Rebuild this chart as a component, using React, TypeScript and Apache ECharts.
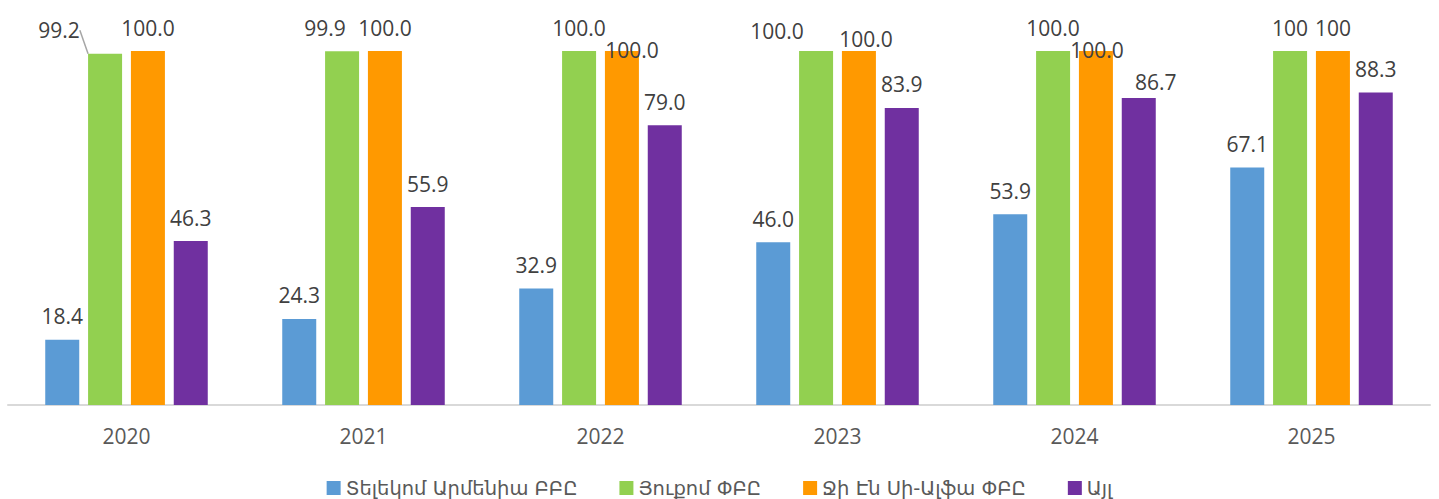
import React, { useEffect, useRef } from "react";
import * as echarts from "echarts";

const years = ["2020", "2021", "2022", "2023", "2024", "2025"];
const seriesNames = ["Տելեկոմ Արմենիա ԲԲԸ", "Յուքոմ ՓԲԸ", "Ջի Էն Սի-Ալֆա ՓԲԸ", "Այլ"];
const telecomArmenia = [18.4, 24.3, 32.9, 46.0, 53.9, 67.1];
const ucom = [99.2, 99.9, 100.0, 100.0, 100.0, 100];
const gncAlfa = [100.0, 100.0, 100.0, 100.0, 100.0, 100];
const others = [46.3, 55.9, 79.0, 83.9, 86.7, 88.3];
// labels shown without decimals (series index -> data indices)
const wholeLabels: Record<number, number[]> = { 1: [5], 2: [5] };

const colors = ["#5B9BD5", "#92D050", "#FF9900", "#7030A0"];

// manual label shifts (series index -> data index -> [dx, dy])
const labelShift: Record<number, Record<number, [number, number]>> = {
  1: { 0: [-46, 0], 1: [-17, 0], 3: [-39, 3] },
  2: { 2: [10, 22], 3: [7, 11], 4: [1, 22] },
  3: { 4: [17, 7] },
};

const FONT = "'Open Sans', sans-serif";

export default function App() {
  const ref = useRef<HTMLDivElement>(null);
  useEffect(() => {
    if (!ref.current) return;
    const chart = echarts.init(ref.current, null, { renderer: "svg" });
    const all = [telecomArmenia, ucom, gncAlfa, others];
    const series = all.map((vals, si) => ({
      name: seriesNames[si],
      type: "bar",
      barWidth: 34,
      barGap: "26%",
      itemStyle: { color: colors[si] },
      data: vals.map((v, di) =>
        si === 1 && di === 0
          ? { value: v, labelLine: { show: true, lineStyle: { color: "#A6A6A6", width: 1.5 } } }
          : v
      ),
      label: {
        show: true,
        position: "top",
        distance: 13,
        color: "#404040",
        fontSize: 21,
        fontFamily: FONT,
        formatter: (p: any) =>
          (wholeLabels[si] || []).includes(p.dataIndex)
            ? String(Math.round(p.value))
            : Number(p.value).toFixed(1),
      },
      labelLine: { show: false },
      labelLayout: (p: any) => {
        const s = labelShift[si] && labelShift[si][p.dataIndex];
        return s ? { dx: s[0], dy: s[1] } : {};
      },
    }));
    chart.setOption({
      animation: false,
      grid: { left: 8, right: 9, top: 51, bottom: 94, containLabel: false },
      legend: {
        top: 473,
        left: "center",
        itemWidth: 14,
        itemHeight: 14,
        itemGap: 42,
        icon: "rect",
        textStyle: { color: "#595959", fontSize: 19.5, fontFamily: "'DejaVu Sans', sans-serif" },
        data: seriesNames,
      },
      xAxis: {
        type: "category",
        data: years,
        axisLine: { lineStyle: { color: "#D9D9D9", width: 2 } },
        axisTick: { show: false },
        axisLabel: { color: "#595959", fontSize: 21, fontFamily: FONT, margin: 20 },
      },
      yAxis: {
        type: "value",
        min: 0,
        max: 100,
        show: false,
        splitLine: { show: false },
      },
      series,
    });
    return () => chart.dispose();
  }, []);
  return <div ref={ref} style={{ width: 1439, height: 499, position: "absolute", left: 0, top: 0 }} />;
}
